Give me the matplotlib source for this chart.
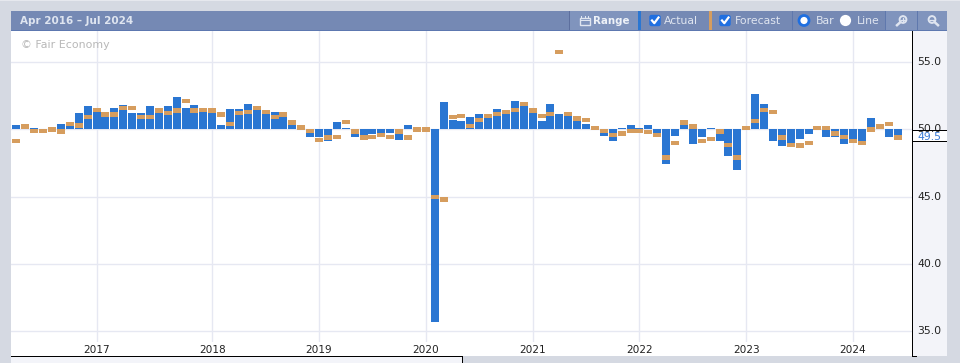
import matplotlib
matplotlib.use("Agg")
import matplotlib.pyplot as plt
from matplotlib.patches import Rectangle, Circle, FancyBboxPatch

# Data (monthly, Apr 2016 - Jul 2024)
actual = [50.3, 50.1, 50.1, 50.0, 50.0, 50.4, 50.3, 51.2, 51.75, 51.3,
          51.3, 51.6, 51.8, 51.2, 51.2, 51.75, 51.2, 51.75, 52.4, 51.6,
          51.8, 51.3, 51.2, 50.3, 51.5, 51.5, 51.9, 51.45, 51.2, 51.3,
          50.9, 50.3, 50.0, 49.4, 49.45, 49.15, 50.55, 50.1, 49.4, 49.4,
          49.65, 49.65, 49.75, 49.2, 50.3, 50.2, 50.0, 35.7, 52.05, 50.7,
          50.65, 50.95, 51.15, 51.15, 51.5, 51.15, 52.1, 51.75, 51.25, 50.65,
          51.9, 51.15, 51.0, 50.6, 50.4, 50.0, 49.5, 49.15, 50.1, 50.35,
          50.1, 50.3, 49.5, 47.4, 49.5, 50.3, 48.95, 49.4, 50.1, 49.15,
          48.0, 46.95, 50.0, 52.65, 51.9, 49.15, 48.8, 48.85, 49.25, 49.65,
          50.0, 49.45, 49.4, 48.95, 49.25, 49.15, 50.85, 50.4, 49.45, 49.5]
forecast = [49.15, 50.2, 49.9, 49.9, 50.0, 49.85, 50.4, 50.3, 50.9, 51.45,
            51.1, 51.1, 51.6, 51.6, 50.9, 50.9, 51.4, 51.2, 51.4, 52.1,
            51.4, 51.45, 51.4, 51.1, 50.4, 51.2, 51.3, 51.6, 51.3, 50.9,
            51.1, 50.5, 50.15, 49.9, 49.2, 49.4, 49.45, 50.55, 49.85, 49.4,
            49.45, 49.6, 49.45, 49.85, 49.4, 50.0, 50.0, 45.0, 44.8, 50.9,
            51.0, 50.25, 50.7, 51.0, 51.15, 51.3, 51.45, 51.9, 51.4, 51.0,
            51.15, 55.75, 51.15, 50.8, 50.7, 50.1, 49.9, 49.6, 49.7, 49.9,
            49.9, 49.8, 49.6, 47.9, 49.0, 50.5, 50.2, 49.15, 49.3, 49.85,
            48.85, 47.9, 50.1, 50.6, 51.45, 51.3, 49.4, 48.85, 48.8, 49.0,
            50.1, 50.1, 49.7, 49.45, 49.15, 49.0, 50.0, 50.2, 50.4, 49.4]
year_labels = ["2017", "2018", "2019", "2020", "2021", "2022", "2023", "2024"]
year_index = [9, 22, 34, 46, 58, 70, 82, 94]
y_ticks = [35, 40, 45, 50, 55]
baseline = 50.0

W, H = 960, 363
CHROME = "#d5d9e2"
HEAD = "#7589b4"
HEAD2 = "#8094bd"
PANEL = "#f3f4f9"
GRID = "#e6e8f2"
BLUE = "#2a76d2"
ORANGE = "#d69d5e"
HTXT = "#dfe5f0"

plt.rcParams["font.family"] = "DejaVu Sans"
fig = plt.figure(figsize=(W / 100, H / 100), dpi=100, facecolor=CHROME)

L, R, T, B = 11, 912, 31, 342
# white strip holding the year labels, under the plot
strip = fig.add_axes([L / W, 1 - 356 / H, (R - L) / W, (356 - B) / H], facecolor="white")
strip.axis("off")
strip.set_zorder(0)
strip.add_patch(Rectangle((0, 0), 1, 1, transform=strip.transAxes, facecolor="white", edgecolor="none"))
ax = fig.add_axes([L / W, 1 - B / H, (R - L) / W, (B - T) / H], facecolor="white", zorder=1)
px = 8.9
x0 = 16.4
ax.set_xlim((L - x0) / px, (R - x0) / px)
pu = 13.475
ax.set_ylim(35 - (B - 331.5) / pu, 55 + (62 - T) / pu)

xs = list(range(len(actual)))
ax.bar(xs, [a - baseline for a in actual], bottom=baseline, width=8 / px,
       color=BLUE, linewidth=0, zorder=3)
fh = 4.4 / pu
ax.bar(xs, [fh] * len(xs), bottom=[f - fh / 2 for f in forecast], width=8 / px,
       color=ORANGE, linewidth=0, zorder=4)

ax.set_xticks(year_index, year_labels, fontsize=7.6, color="#222222")
ax.set_yticks(y_ticks)
ax.set_yticklabels([])
ax.tick_params(length=0)
ax.tick_params(axis="x", pad=2.5)
ax.grid(True, color=GRID, linewidth=1)
ax.set_axisbelow(True)
for s in ax.spines.values():
    s.set_visible(False)

# Overlay in pixel coordinates for the widget chrome
ov = fig.add_axes([0, 0, 1, 1], facecolor="none", zorder=5)
ov.set_xlim(0, W)
ov.set_ylim(H, 0)
ov.axis("off")


def rect(x, y, w, h, c, z=1):
    ov.add_patch(Rectangle((x, y), w, h, facecolor=c, edgecolor="none", zorder=z))


def label(x, y, s, size=7.8, c=HTXT, **kw):
    ov.text(x, y, s, fontsize=size, color=c, va="center", **kw)


rect(0, 0, W, 1, "#e6e8ee")
rect(11, 11, 936, 19, HEAD)
rect(11, 30, 936, 1, "#5d78b0")
label(20, 21, "Apr 2016 \u2013 Jul 2024", size=7.5, fontweight="bold")
label(21, 44.5, "\u00a9 Fair Economy", size=7.9, c="#b8b8b8")

# Right value panel
rect(913, 31, 34, 325, PANEL)
rect(912, 31, 1, 325, "black", 3)
rect(912, 355.5, 5, 1, "black", 3)
for v in y_ticks:
    ov_y = 62 + (55 - v) * pu
    label(917.5, ov_y, f"{v:.1f}", size=7.8, c="#222222")
rect(913, 130, 34, 11, "#ffffff", 2)
rect(912, 130, 35, 1, "black", 3)
rect(912, 141, 35, 1, "black", 3)
ov.text(917, 136.5, "49.5", fontsize=7.8, color="#3a7bd5", va="center", zorder=4)

# Bottom panel
rect(11, 356, 451, 7, PANEL)
rect(11, 356, 451, 1, "black", 3)
rect(462, 356, 1, 7, "black", 3)

# Header sections
rect(570, 11, 68, 19, HEAD2)
rect(569, 11, 1, 19, "#5d6f9e", 2)
rect(638, 11, 3, 19, BLUE, 2)
rect(709, 11, 3, 19, ORANGE, 2)
for xx in [792, 885, 917]:
    rect(xx, 11, 1, 19, "#5f78ad", 2)
rect(885, 11, 32, 19, HEAD2)
rect(918, 11, 29, 19, HEAD2)

# Range icon
ov.add_patch(Rectangle((580, 17.5), 9.5, 7, fill=False, edgecolor=HTXT, linewidth=1, zorder=3))
rect(580, 20, 10, 1, HTXT, 3)
rect(581, 15.5, 1, 2, HTXT, 3)
rect(584.5, 15.5, 1, 2, HTXT, 3)
rect(588, 15.5, 1, 2, HTXT, 3)
label(593.5, 21, "Range", size=7.4, fontweight="bold", c="#eef2f8")


def checkbox(x):
    ov.add_patch(FancyBboxPatch((x + 1, 15.5), 10, 10, boxstyle="round,pad=0,rounding_size=1.5",
                                facecolor="#1f6fe0", edgecolor="#1f6fe0", linewidth=1, zorder=3))
    ov.plot([x + 3, x + 5.3, x + 9.5], [20.5, 23.2, 17.5], color="white", lw=1.6, zorder=4)


checkbox(649)
label(664, 21, "Actual")
checkbox(719)
label(734.5, 21, "Forecast")

ov.add_patch(Circle((804, 20.5), 5, facecolor="white", edgecolor="#1f6fe0", linewidth=2, zorder=3))
label(816, 21, "Bar")
ov.add_patch(Circle((845.5, 20.5), 5.6, facecolor="white", edgecolor="none", zorder=3))
label(857, 21, "Line")


def glass(x, plus):
    ov.add_patch(Circle((x, 19.5), 3.4, fill=False, edgecolor=HTXT, linewidth=1.4, zorder=3))
    if plus:
        ov.plot([x - 2.7, x - 6], [22.2, 25.2], color=HTXT, lw=1.8, zorder=3)
        ov.plot([x, x], [17.5, 21.5], color=HTXT, lw=0.9, zorder=3)
    else:
        ov.plot([x + 2.7, x + 6], [22.2, 25.2], color=HTXT, lw=1.8, zorder=3)
    ov.plot([x - 2, x + 2], [19.5, 19.5], color=HTXT, lw=0.9, zorder=3)


glass(903, True)
glass(932, False)

fig.savefig("out.png", dpi=100, facecolor=CHROME)
